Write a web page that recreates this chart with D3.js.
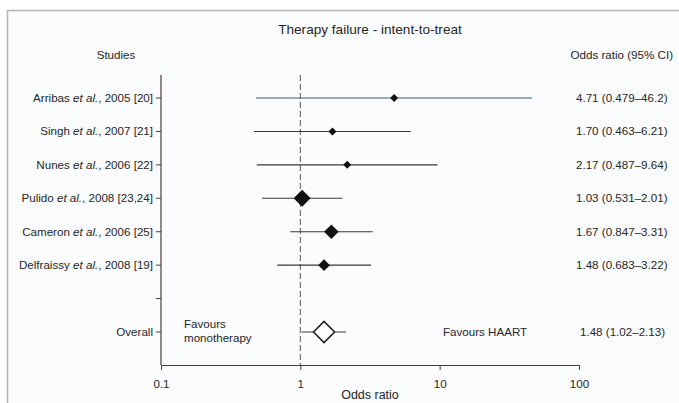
<!DOCTYPE html>
<html>
<head>
<meta charset="utf-8">
<script src="https://cdn.jsdelivr.net/npm/d3@7"></script>
<style>
  body { margin: 0; background: #fff; }
  text { font-family: "Liberation Sans", Arial, sans-serif; fill: #262626; }
</style>
</head>
<body>
<div id="chart"></div>
<script>
// ---- data ----
const authors  = ["Arribas", "Singh", "Nunes", "Pulido", "Cameron", "Delfraissy"];
const years    = ["2005 [20]", "2007 [21]", "2006 [22]", "2008 [23,24]", "2006 [25]", "2008 [19]"];
const oddsRatio = [4.71, 1.70, 2.17, 1.03, 1.67, 1.48];
const ciLow     = [0.479, 0.463, 0.487, 0.531, 0.847, 0.683];
const ciHigh    = [46.2, 6.21, 9.64, 2.01, 3.31, 3.22];
const weights   = [1, 1, 1, 4, 3, 2];   // relative study weight (marker size)
const overall   = { or: 1.48, lo: 1.02, hi: 2.13 };
const xTicks    = [0.1, 1, 10, 100];
const rows      = ["r0", "r1", "r2", "r3", "r4", "r5", "blank", "overall"];

const W = 679, H = 403;
const fs = "11.6px";
const svg = d3.select("#chart").append("svg")
  .attr("width", W).attr("height", H);

// frame
svg.append("rect")
  .attr("x", 7.5).attr("y", 10.5)
  .attr("width", W + 10).attr("height", H + 10)
  .attr("fill", "#fbfcfe")
  .attr("stroke", "#b4b4b4").attr("stroke-width", 1.5);

const x = d3.scaleLog().domain([0.1, 100]).range([161, 579]);
const y = d3.scalePoint().domain(rows).range([98, 332]);
const size = d3.scaleSqrt().domain([1, 4]).range([4, 8.5]);

const axisColor = "#4a3c38";

// title + headers
svg.append("text").attr("x", 370).attr("y", 34)
  .attr("text-anchor", "middle").style("font-size", "13.6px")
  .text("Therapy failure - intent-to-treat");
svg.append("text").attr("x", 116).attr("y", 59)
  .attr("text-anchor", "middle").style("font-size", fs)
  .text("Studies");
svg.append("text").attr("x", 673).attr("y", 59)
  .attr("text-anchor", "end").style("font-size", fs)
  .text("Odds ratio (95% CI)");

// left axis
svg.append("line")
  .attr("x1", 161).attr("x2", 161).attr("y1", 75).attr("y2", 365)
  .attr("stroke", axisColor).attr("stroke-width", 1.2);
svg.selectAll(".ytick").data(rows).join("line")
  .attr("x1", 156).attr("x2", 161)
  .attr("y1", d => y(d)).attr("y2", d => y(d))
  .attr("stroke", axisColor);

// bottom axis
const xAxis = svg.append("g")
  .attr("transform", "translate(0,365)")
  .call(d3.axisBottom(x).tickValues(xTicks).tickFormat(d3.format("")).tickSize(5).tickSizeOuter(0));
xAxis.select(".domain").attr("stroke", axisColor).attr("stroke-width", 1.2);
xAxis.selectAll(".tick line").attr("stroke", axisColor);
xAxis.selectAll(".tick text")
  .attr("y", 15)
  .style("font-size", fs).style("font-family", "Liberation Sans, Arial, sans-serif")
  .attr("fill", "#262626");
svg.append("text").attr("x", 370).attr("y", 399)
  .attr("text-anchor", "middle").style("font-size", "12.5px")
  .text("Odds ratio");

// reference line at OR = 1
svg.append("line")
  .attr("x1", x(1)).attr("x2", x(1)).attr("y1", 75).attr("y2", 365)
  .attr("stroke", "#555").attr("stroke-dasharray", "6,3");

// study labels
const labels = svg.selectAll(".lab").data(authors).join("text")
  .attr("x", 153).attr("y", (d, i) => y(rows[i]) + 4)
  .attr("text-anchor", "end").style("font-size", fs);
labels.append("tspan").text(d => d + " ");
labels.append("tspan").style("font-style", "italic").text("et al.");
labels.append("tspan").text((d, i) => ", " + years[i]);

svg.append("text").attr("x", 153).attr("y", y("overall") + 4)
  .attr("text-anchor", "end").style("font-size", fs).text("Overall");

// CI lines
svg.selectAll(".ci").data(oddsRatio).join("line")
  .attr("x1", (d, i) => x(ciLow[i])).attr("x2", (d, i) => x(ciHigh[i]))
  .attr("y1", (d, i) => y(rows[i])).attr("y2", (d, i) => y(rows[i]))
  .attr("stroke", (d, i) => i === 0 ? "#3a6068" : "#3e3634")
  .attr("stroke-width", 1.1);

// study diamonds
const diamond = (cx, cy, r) => `M${cx - r},${cy}L${cx},${cy - r}L${cx + r},${cy}L${cx},${cy + r}Z`;
svg.selectAll(".pt").data(oddsRatio).join("path")
  .attr("d", (d, i) => diamond(x(d), y(rows[i]), size(weights[i])))
  .attr("fill", "#111");

// overall
const oy = y("overall");
svg.append("line")
  .attr("x1", x(overall.lo)).attr("x2", x(overall.hi))
  .attr("y1", oy).attr("y2", oy)
  .attr("stroke", "#3e3634").attr("stroke-width", 1.1);
svg.append("path")
  .attr("d", diamond(x(overall.or), oy, 10.5))
  .attr("fill", "#fff").attr("stroke", "#222").attr("stroke-width", 1.6);

// right column values
const fmt = (v, lo, hi) => `${v.toFixed(2)} (${lo}\u2013${hi})`;
svg.selectAll(".val").data(oddsRatio).join("text")
  .attr("x", 576).attr("y", (d, i) => y(rows[i]) + 4)
  .style("font-size", fs)
  .text((d, i) => fmt(d, ciLow[i], ciHigh[i]));
svg.append("text").attr("x", 580).attr("y", oy + 4)
  .style("font-size", fs)
  .text(fmt(overall.or, overall.lo.toFixed(2), overall.hi.toFixed(2)));

// favours labels
const fav = svg.append("text").attr("x", 184).attr("y", oy - 4).style("font-size", fs);
fav.append("tspan").attr("x", 184).text("Favours");
fav.append("tspan").attr("x", 184).attr("dy", 14).text("monotherapy");
svg.append("text").attr("x", 443).attr("y", oy + 4)
  .style("font-size", fs).text("Favours HAART");
</script>
</body>
</html>
